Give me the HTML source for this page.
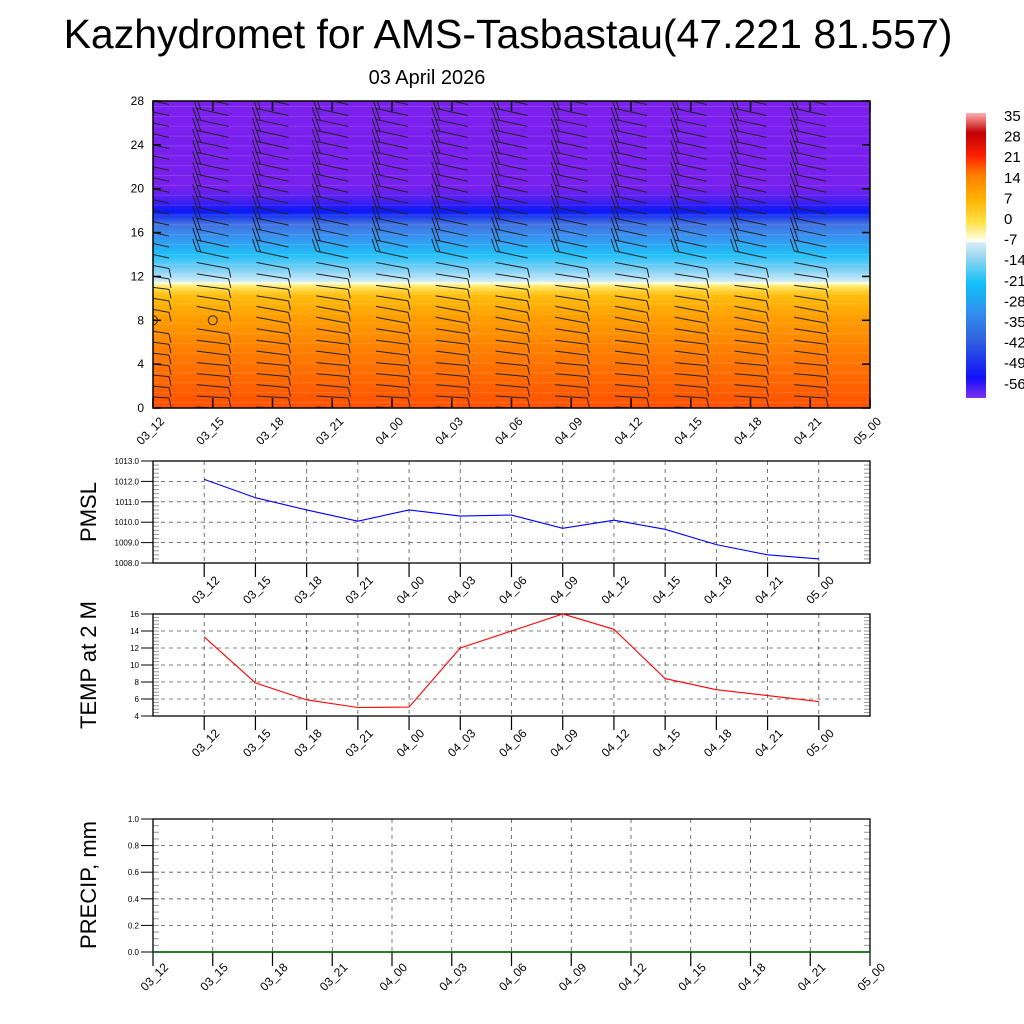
<!DOCTYPE html>
<html><head><meta charset="utf-8">
<style>
html,body{margin:0;padding:0;background:#fff;}
svg{display:block;font-family:"Liberation Sans",sans-serif;}
</style></head>
<body>
<svg id="chart" width="1024" height="1024" viewBox="0 0 1024 1024" xmlns="http://www.w3.org/2000/svg">
<defs>
<clipPath id="topclip"><rect x="153" y="101" width="717" height="307"/></clipPath>
<linearGradient id="tgrad" x1="0" y1="1" x2="0" y2="0">
<stop offset="0" stop-color="#ff5000"/>
<stop offset="0.08" stop-color="#ff6400"/>
<stop offset="0.2" stop-color="#ff8200"/>
<stop offset="0.3" stop-color="#ffa000"/>
<stop offset="0.37" stop-color="#ffc010"/>
<stop offset="0.4" stop-color="#fff080"/>
<stop offset="0.408" stop-color="#ffffe0"/>
<stop offset="0.412" stop-color="#d0ecf8"/>
<stop offset="0.45" stop-color="#80d0f4"/>
<stop offset="0.5" stop-color="#20c0f8"/>
<stop offset="0.56" stop-color="#3890f0"/>
<stop offset="0.6" stop-color="#4070e0"/>
<stop offset="0.64" stop-color="#0818f8"/>
<stop offset="0.68" stop-color="#5020f0"/>
<stop offset="0.72" stop-color="#7820ee"/>
<stop offset="1" stop-color="#7c20ee"/>
</linearGradient>
<linearGradient id="cbgrad" x1="0" y1="1" x2="0" y2="0">
<stop offset="0" stop-color="#8030f0"/>
<stop offset="0.07" stop-color="#1010f8"/>
<stop offset="0.2" stop-color="#3060e0"/>
<stop offset="0.3" stop-color="#3090f0"/>
<stop offset="0.4" stop-color="#10c0f8"/>
<stop offset="0.5" stop-color="#a0d8f0"/>
<stop offset="0.545" stop-color="#d8ecf8"/>
<stop offset="0.55" stop-color="#fffff0"/>
<stop offset="0.62" stop-color="#ffe040"/>
<stop offset="0.7" stop-color="#ffb000"/>
<stop offset="0.78" stop-color="#ff8000"/>
<stop offset="0.85" stop-color="#ff2000"/>
<stop offset="0.93" stop-color="#c00000"/>
<stop offset="1" stop-color="#ffb0b0"/>
</linearGradient>
</defs>
<text x="508" y="48" font-size="41" text-anchor="middle">Kazhydromet for AMS-Tasbastau(47.221 81.557)</text>
<text x="427" y="84" font-size="20" text-anchor="middle">03 April 2026</text>
<g id="topPanel"></g>
<g id="cb"></g>
<g id="pmsl"></g>
<g id="temp"></g>
<g id="precip"></g>
</svg>
<script>
const timeLabels=["03_12","03_15","03_18","03_21","04_00","04_03","04_06","04_09","04_12","04_15","04_18","04_21","05_00"];
const pmslValues=[1012.1,1011.2,1010.6,1010.05,1010.6,1010.3,1010.35,1009.7,1010.1,1009.65,1008.9,1008.4,1008.2];
const tempValues=[13.3,7.9,5.9,5.0,5.05,12.0,14.0,16.0,14.2,8.4,7.1,6.4,5.7];
const precipValues=[0,0,0,0,0,0,0,0,0,0,0,0,0];
const heightTicks=[0,4,8,12,16,20,24,28];
const pmslTicks=[1008,1009,1010,1011,1012,1013];
const tempTicks=[4,6,8,10,12,14,16];
const precipTicks=[0,0.2,0.4,0.6,0.8,1.0];
const cbLabels=["35","28","21","14","7","0","-7","-14","-21","-28","-35","-42","-49","-56"];
const windTilt=[2,2,3,3,3,4,4,5,6,6,5,4,5,6,7,7,7,7,7,7,7,7,7,7,7,7,7,7,7];
const windFeathers=[1,1,1,1,1,1,1,1,1,1,1,1,1,1,2,2,2,2,2,2,2,2,2,2,2,2,2,2,2];
const windUpper=[0,0,0,0,0,0,0,0,0,0,0,0,0,0,1,1,1,1,1,1,1,1,1,1,1,1,1,1,1];

const NS="http://www.w3.org/2000/svg";
function mk(parent,tag,attrs){const e=document.createElementNS(NS,tag);for(const k in attrs)e.setAttribute(k,attrs[k]);parent.appendChild(e);return e;}

const topG=document.getElementById('topPanel');
const TL=153,TR=870,TT=101,TB=408;
const txTop=i=>TL+i*(TR-TL)/12;
const tyH=h=>TB-h*(TB-TT)/28;
let r=mk(topG,'rect',{x:TL,y:TT,width:TR-TL,height:TB-TT,fill:'url(#tgrad)'});


for(let h=0.5;h<28;h+=0.9){mk(topG,'line',{x1:TL,x2:TR,y1:tyH(h),y2:tyH(h),stroke:'#fff',"stroke-opacity":0.12,"stroke-width":1});}
const barbs=mk(topG,'g',{stroke:'#222',"stroke-width":1,fill:'none',"clip-path":"url(#topclip)"});


for(let c=0;c<12;c++){
  const cx=txTop(c);
  for(let lv=0;lv<windTilt.length;lv++){
    const y=tyH(lv);
    if(c<2&&lv===8){mk(barbs,'circle',{cx:cx,cy:y,r:4.5});continue;}
    const x1=cx-16,x2=cx+16,t=windTilt[lv];
    const y1=y-t/2,y2=y+t/2;
    const b=mk(barbs,'line',{x1:x1,y1:y1,x2:x2,y2:y2});
    
    
    for(let f=0;f<windFeathers[lv];f++){
      if(windUpper[lv]){const fx=x1+f*4,fy=y1+f*t/8;mk(barbs,'line',{x1:fx,y1:fy,x2:fx-4,y2:fy-12});}
      else{const fx=x2-f*4,fy=y2;mk(barbs,'line',{x1:fx,y1:fy,x2:fx+2,y2:fy+9});}
    }
  }
}
mk(topG,'rect',{x:TL,y:TT,width:TR-TL,height:TB-TT,fill:'none',stroke:'#000',"stroke-width":1.5});
heightTicks.forEach(h=>{
  const y=tyH(h);
  mk(topG,'line',{x1:TL,x2:TL+8,y1:y,y2:y,stroke:'#000',"stroke-width":1.5});
  mk(topG,'line',{x1:TR-8,x2:TR,y1:y,y2:y,stroke:'#000',"stroke-width":1.5});
  const t=mk(topG,'text',{x:TL-9,y:y+4,"font-size":12,"text-anchor":"end"});t.textContent=h;
  
  
});
timeLabels.forEach((lab,i)=>{
  const x=txTop(i);
  mk(topG,'line',{x1:x,x2:x,y1:TB,y2:TB-10,stroke:'#000',"stroke-width":1.5});
  mk(topG,'line',{x1:x,x2:x,y1:TT,y2:TT+10,stroke:'#000',"stroke-width":1.5});
  const ax=x+12,ay=TB+14;
  const t=mk(topG,'text',{x:ax,y:ay,"font-size":12,"text-anchor":"end",transform:`rotate(-45 ${ax} ${ay})`});t.textContent=lab;
  
  
});

const cb=document.getElementById('cb');
let cbr=mk(cb,'rect',{x:966,y:113,width:20,height:285,fill:'url(#cbgrad)'});


cbLabels.forEach((lab,i)=>{
  const t=mk(cb,'text',{x:1004,y:121+i*20.6,"font-size":15});t.textContent=lab;
  
  
});

function linePanel(gid,top_,bot,ticks,values,fmt,color,title,titleY,name){
  const g=document.getElementById(gid);
  const L=153,R=870;
  const x=i=>L+(i+1)*(R-L)/14;
  const ymin=ticks[0],ymax=ticks[ticks.length-1];
  const y=v=>bot-(v-ymin)/(ymax-ymin)*(bot-top_);
  ticks.forEach(v=>{ if(v!==ymin&&v!==ymax) mk(g,'line',{x1:L,x2:R,y1:y(v),y2:y(v),stroke:'#555',"stroke-width":0.8,"stroke-dasharray":"4,4"});});
  timeLabels.forEach((lab,i)=>{
    mk(g,'line',{x1:x(i),x2:x(i),y1:top_,y2:bot,stroke:'#555',"stroke-width":0.8,"stroke-dasharray":"4,4"});
    mk(g,'line',{x1:x(i),x2:x(i),y1:bot,y2:bot+14,stroke:'#000',"stroke-width":1.2});
    const ax=x(i)+16,ay=bot+18;
    const t=mk(g,'text',{x:ax,y:ay,"font-size":12,"text-anchor":"end",transform:`rotate(-45 ${ax} ${ay})`});t.textContent=lab;
    
    
  });
  const step=(ymax-ymin)/((ticks.length-1)*5);
  for(let v=ymin;v<=ymax+1e-9;v+=step){
    mk(g,'line',{x1:L,x2:L+6,y1:y(v),y2:y(v),stroke:'#999',"stroke-width":1});
    mk(g,'line',{x1:R-6,x2:R,y1:y(v),y2:y(v),stroke:'#999',"stroke-width":1});
  }
  ticks.forEach(v=>{
    mk(g,'line',{x1:L-12,x2:L,y1:y(v),y2:y(v),stroke:'#000',"stroke-width":1});
    const t=mk(g,'text',{x:L-14,y:y(v)+3,"font-size":8,"text-anchor":"end"});t.textContent=fmt(v);
    
    
  });
  mk(g,'rect',{x:L,y:top_,width:R-L,height:bot-top_,fill:'none',stroke:'#000',"stroke-width":1.3});
  const pts=values.map((v,i)=>x(i)+','+y(v)).join(' ');
  const pl=mk(g,'polyline',{points:pts,fill:'none',stroke:color,"stroke-width":1.1});
  
  
  const tt=mk(g,'text',{x:96,y:titleY,"font-size":22,"text-anchor":"middle",transform:`rotate(-90 96 ${titleY})`});tt.textContent=title;
  
  
}
linePanel('pmsl',461,563,pmslTicks,pmslValues,v=>v.toFixed(1),'#0000ff','PMSL',512,'pmsl-line');
linePanel('temp',614,716,tempTicks,tempValues,v=>String(v),'#ff0000','TEMP at 2 M',665,'temp-line');

(function(){
  const g=document.getElementById('precip');
  const L=153,R=870,T=819,B=952;
  const x=i=>L+i*(R-L)/12;
  const y=v=>B-v*(B-T);
  precipTicks.forEach(v=>{ if(v>0&&v<1) mk(g,'line',{x1:L,x2:R,y1:y(v),y2:y(v),stroke:'#555',"stroke-width":0.8,"stroke-dasharray":"4,4"});});
  for(let v=0;v<=1.0001;v+=0.05){
    mk(g,'line',{x1:L,x2:L+6,y1:y(v),y2:y(v),stroke:'#999',"stroke-width":1});
    mk(g,'line',{x1:R-6,x2:R,y1:y(v),y2:y(v),stroke:'#999',"stroke-width":1});
  }
  timeLabels.forEach((lab,i)=>{
    if(i>0&&i<12) mk(g,'line',{x1:x(i),x2:x(i),y1:T,y2:B,stroke:'#555',"stroke-width":0.8,"stroke-dasharray":"4,4"});
    mk(g,'line',{x1:x(i),x2:x(i),y1:B,y2:B+14,stroke:'#000',"stroke-width":1.2});
    const ax=x(i)+16,ay=B+16;
    const t=mk(g,'text',{x:ax,y:ay,"font-size":12,"text-anchor":"end",transform:`rotate(-45 ${ax} ${ay})`});t.textContent=lab;
    
    
  });
  precipTicks.forEach(v=>{
    mk(g,'line',{x1:L-12,x2:L,y1:y(v),y2:y(v),stroke:'#000',"stroke-width":1});
    const t=mk(g,'text',{x:L-14,y:y(v)+3,"font-size":8,"text-anchor":"end"});t.textContent=v.toFixed(1);
    
    
  });
  mk(g,'rect',{x:L,y:T,width:R-L,height:B-T,fill:'none',stroke:'#000',"stroke-width":1.3});
  const pts=precipValues.map((v,i)=>x(i)+','+y(v)).join(' ');
  const pl=mk(g,'polyline',{points:pts,fill:'none',stroke:'#006400',"stroke-width":1.5});
  
  
  const tt=mk(g,'text',{x:96,y:885,"font-size":22,"text-anchor":"middle",transform:"rotate(-90 96 885)"});tt.textContent='PRECIP, mm';
  
  
})();
</script>
</body></html>
